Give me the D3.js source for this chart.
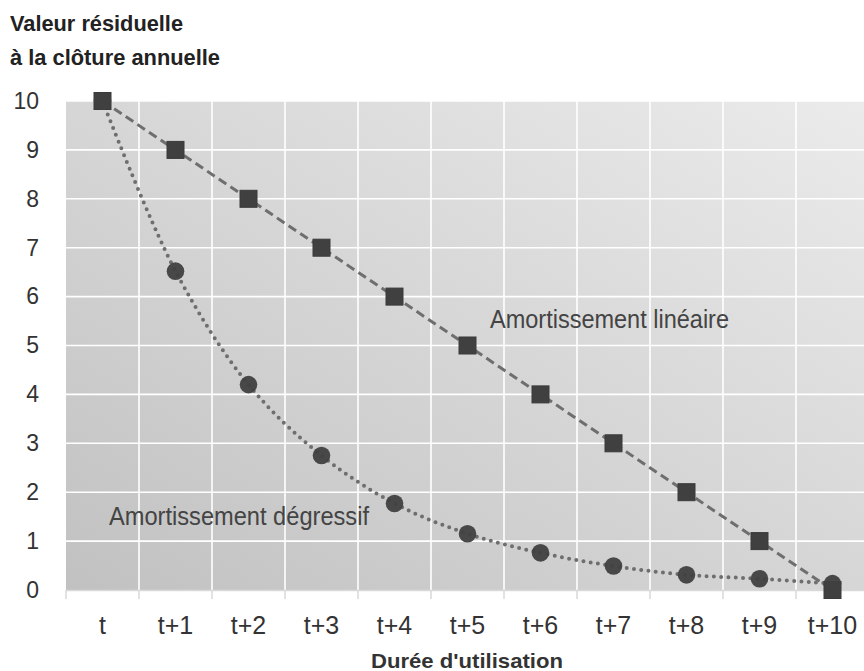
<!DOCTYPE html>
<html><head><meta charset="utf-8">
<script src="https://cdn.jsdelivr.net/npm/d3@7"></script>
<style>
body{margin:0;background:#fff;}
svg{display:block;font-family:"Liberation Sans","Arimo",Arial,sans-serif;}
</style></head><body>
<svg id="c" width="864" height="671"></svg>
<script>
const categories = ["t","t+1","t+2","t+3","t+4","t+5","t+6","t+7","t+8","t+9","t+10"];
const lineaire = [10,9,8,7,6,5,4,3,2,1,0];
const degressif = [10,6.52,4.2,2.75,1.77,1.15,0.76,0.49,0.31,0.23,0.13];
const yTicks = [0,1,2,3,4,5,6,7,8,9,10];
const titleLines = ["Valeur résiduelle","à la clôture annuelle"];
const xTitle = "Durée d'utilisation";
const labelLin = "Amortissement linéaire";
const labelDeg = "Amortissement dégressif";

(function(){
const svg = d3.select("#c");
const mLeft = 66, mTop = 101, mBottom = 590, bandW = 73;
const mRight = mLeft + bandW * categories.length;
const x = d3.scaleBand().domain(categories).range([mLeft, mRight]);
const y = d3.scaleLinear().domain([0,10]).range([mBottom, mTop]);

const defs = svg.append("defs");
const g = defs.append("linearGradient").attr("id","bg").attr("x1","0").attr("y1","1").attr("x2","1").attr("y2","0");
g.append("stop").attr("offset","0").attr("stop-color","#c1c1c1");
g.append("stop").attr("offset","1").attr("stop-color","#ebebeb");
defs.append("clipPath").attr("id","clip").append("rect").attr("x",0).attr("y",0).attr("width",864).attr("height",671);

svg.append("rect").attr("x",mLeft).attr("y",mTop).attr("width",mRight-mLeft).attr("height",mBottom-mTop).attr("fill","url(#bg)");

svg.append("g").selectAll("line").data(yTicks.filter(d=>d>0)).join("line")
  .attr("x1",mLeft).attr("x2",mRight).attr("y1",d=>y(d)).attr("y2",d=>y(d))
  .attr("stroke","#fff").attr("stroke-width",1.6);
svg.append("g").selectAll("line").data(categories.slice(1)).join("line")
  .attr("x1",d=>x(d)).attr("x2",d=>x(d)).attr("y1",mTop).attr("y2",mBottom)
  .attr("stroke","#fff").attr("stroke-width",1.6);

const xAxis = svg.append("g").attr("transform",`translate(0,${mBottom})`)
  .call(d3.axisBottom(x).tickSize(0).tickPadding(26));
xAxis.select(".domain").attr("stroke","#d9d9d9").attr("stroke-width",1.5);
xAxis.selectAll("text").attr("font-size",25).attr("fill","#333");
svg.append("g").selectAll("line").data(categories).join("line")
  .attr("x1",d=>x(d)).attr("x2",d=>x(d)).attr("y1",mBottom).attr("y2",mBottom+9)
  .attr("stroke","#d9d9d9").attr("stroke-width",1.5);

const yAxis = svg.append("g").attr("transform",`translate(39,0)`)
  .call(d3.axisLeft(y).tickValues(yTicks).tickSize(0).tickPadding(0).tickFormat(d3.format("d")));
yAxis.select(".domain").remove();
yAxis.selectAll("text").attr("font-size",23).attr("fill","#333");

const cx = d => x(d) + x.bandwidth()/2;
const pts = arr => categories.map((c,i)=>[cx(c), y(arr[i])]);

const plot = svg.append("g").attr("clip-path","url(#clip)");
plot.append("path").attr("d", d3.line()(pts(lineaire)))
  .attr("fill","none").attr("stroke","#6e6e6e").attr("stroke-width",3).attr("stroke-dasharray","9,5");
plot.append("path").attr("d", d3.line().curve(d3.curveCatmullRom)(pts(degressif)))
  .attr("fill","none").attr("stroke","#6e6e6e").attr("stroke-width",4).attr("stroke-linecap","round").attr("stroke-dasharray","0,7.3");

plot.selectAll("rect.sq").data(lineaire).join("rect").attr("class","sq")
  .attr("x",(d,i)=>cx(categories[i])-8.5).attr("y",d=>y(d)-8.5).attr("width",17).attr("height",17)
  .attr("fill","#404040").attr("stroke","#3a3a3a").attr("stroke-width",1);
plot.selectAll("circle.ci").data(degressif).join("circle").attr("class","ci")
  .attr("cx",(d,i)=>cx(categories[i])).attr("cy",d=>y(d)).attr("r",8.8)
  .attr("fill","#404040").attr("opacity",0.95);

function fit(sel, w){ sel.attr("textLength", w).attr("lengthAdjust","spacingAndGlyphs"); return sel; }

fit(svg.append("text").attr("x",490).attr("y",328).attr("font-size",25).attr("fill","#444").text(labelLin), 239);
fit(svg.append("text").attr("x",109).attr("y",525).attr("font-size",25).attr("fill","#444").text(labelDeg), 260);

const tw = [173, 210];
svg.append("g").selectAll("text").data(titleLines).join("text")
  .attr("x",10).attr("y",(d,i)=>31+i*34).attr("font-size",22).attr("font-weight","bold").attr("fill","#222").text(d=>d)
  .attr("textLength",(d,i)=>tw[i]).attr("lengthAdjust","spacingAndGlyphs");
fit(svg.append("text").attr("x",371).attr("y",668).attr("font-size",21).attr("font-weight","bold").attr("fill","#333").text(xTitle), 192);
})();
</script></body></html>
